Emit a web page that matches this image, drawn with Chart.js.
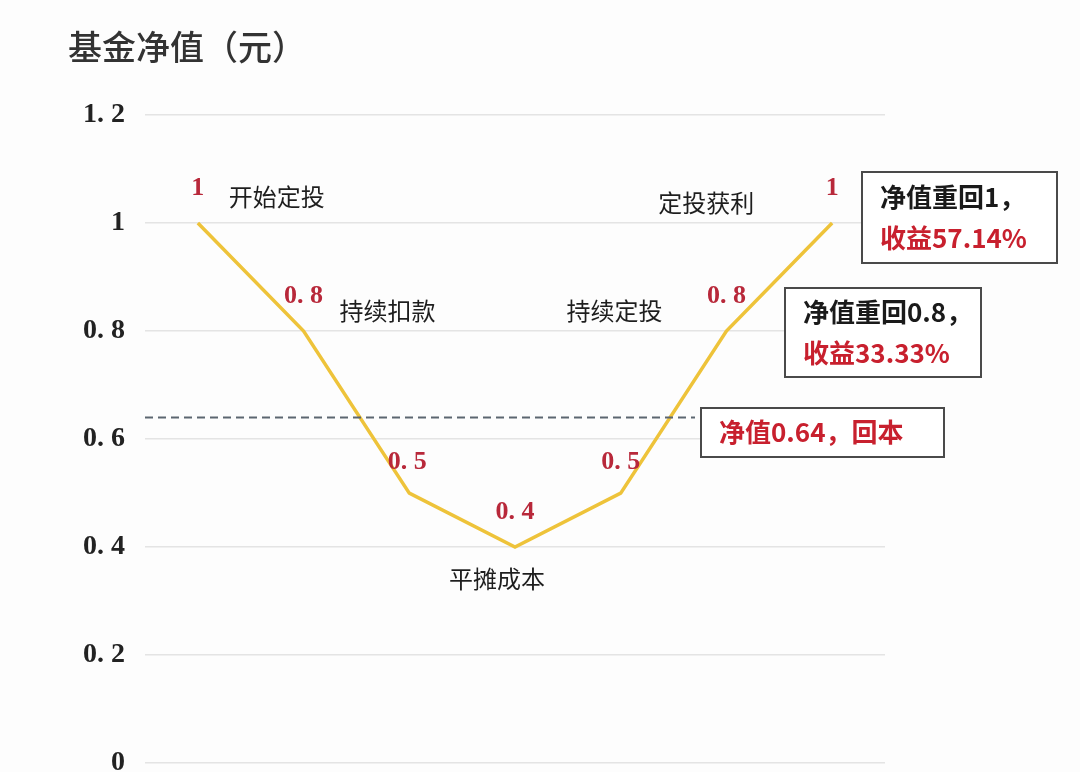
<!DOCTYPE html>
<html>
<head>
<meta charset="utf-8">
<script src="https://cdn.jsdelivr.net/npm/chart.js@4.4.1/dist/chart.umd.min.js"></script>
<style>
html,body{margin:0;padding:0;background:#fdfdfd;overflow:hidden;}
#wrap{position:absolute;left:0;top:0;width:1080px;height:800px;}
</style>
</head>
<body>
<div id="wrap"><canvas id="c" width="1080" height="800"></canvas></div>
<script>
// ---- data ----
const titleText = '基金净值（元）';
const categories = ['P1','P2','P3','P4','P5','P6','P7'];
const netValues = [1, 0.8, 0.5, 0.4, 0.5, 0.8, 1];
const valueLabels = ['1','0. 8','0. 5','0. 4','0. 5','0. 8','1'];
const tickValues = [0, 0.2, 0.4, 0.6, 0.8, 1, 1.2];
const tickLabels = ['0','0. 2','0. 4','0. 6','0. 8','1','1. 2'];
const breakEvenValue = 0.64;
const stageTexts = ['开始定投','持续扣款','平摊成本','持续定投','定投获利'];
const stagePointIndex = [0, 1, 3, 5, 6];
const boxLines = [
  ['净值重回1，','收益57.14%'],
  ['净值重回0.8，','收益33.33%'],
  ['净值0.64，回本']
];

// ---- styles / positions (not data) ----
const stageOffsets = [[79,-26],[84,-20],[-18,32],[-112,-20],[-126,-20]];
const valueLabelOffsets = [[0,-35],[0,-35],[-2,-31],[0,-35],[0,-31],[0,-35],[0,-35]];
const boxRects = [
  {x:862,y:172,w:195,h:91, colors:['#1a1a1a','#c8202e']},
  {x:785,y:288,w:196,h:89, colors:['#1a1a1a','#c8202e']},
  {x:701,y:408,w:243,h:49, colors:['#c8202e']}
];
const CJK = '"Noto Sans CJK SC","Noto Sans",sans-serif';

const annot = {
  id:'annot',
  afterDraw(chart){
    const ctx = chart.ctx, xs = chart.scales.x, ys = chart.scales.y, ca = chart.chartArea;
    ctx.save();
    // title
    ctx.fillStyle = '#333333';
    ctx.font = '500 34px ' + CJK;
    ctx.textAlign = 'left'; ctx.textBaseline = 'middle';
    ctx.fillText(titleText, 68, 47);
    // value labels
    ctx.font = 'bold 26px "Liberation Serif","DejaVu Serif",serif';
    ctx.fillStyle = '#b8283a';
    ctx.textAlign = 'center';
    netValues.forEach((v,i)=>{
      const px = xs.getPixelForValue(i), py = ys.getPixelForValue(v);
      ctx.fillText(valueLabels[i], px + valueLabelOffsets[i][0], py + valueLabelOffsets[i][1]);
    });
    // stage texts
    ctx.font = '24px ' + CJK;
    ctx.fillStyle = '#1e1e1e';
    stageTexts.forEach((t,k)=>{
      const i = stagePointIndex[k];
      const px = xs.getPixelForValue(i), py = ys.getPixelForValue(netValues[i]);
      ctx.fillText(t, px + stageOffsets[k][0], py + stageOffsets[k][1]);
    });
    // break-even dashed line
    const yb = ys.getPixelForValue(breakEvenValue);
    ctx.strokeStyle = '#5c6670';
    ctx.lineWidth = 2;
    ctx.setLineDash([8,5]);
    ctx.beginPath(); ctx.moveTo(ca.left, yb); ctx.lineTo(695, yb); ctx.stroke();
    ctx.setLineDash([]);
    // boxes
    boxLines.forEach((lines,b)=>{
      const r = boxRects[b];
      ctx.fillStyle = '#ffffff';
      ctx.fillRect(r.x, r.y, r.w, r.h);
      ctx.strokeStyle = '#4a4a4a'; ctx.lineWidth = 2;
      ctx.strokeRect(r.x, r.y, r.w, r.h);
      ctx.font = 'bold 26px ' + CJK;
      ctx.textAlign = 'left';
      const n = lines.length, lh = 41;
      const startY = r.y + r.h/2 - (n-1)*lh/2;
      lines.forEach((ln,j)=>{
        ctx.fillStyle = r.colors[j];
        ctx.fillText(ln, r.x + 18, startY + j*lh);
      });
    });
    ctx.restore();
  }
};

new Chart(document.getElementById('c'), {
  type:'line',
  data:{
    labels:categories,
    datasets:[{
      data:netValues,
      borderColor:'#eec33a',
      borderWidth:3.5,
      pointRadius:0,
      tension:0,
      fill:false
    }]
  },
  options:{
    responsive:false,
    animation:false,
    layout:{padding:{left:0,right:195,top:115,bottom:33}},
    plugins:{legend:{display:false},tooltip:{enabled:false}},
    scales:{
      x:{type:'category',display:false,offset:true},
      y:{
        min:0,max:1.2,
        afterBuildTicks(s){ s.ticks = tickValues.map(v=>({value:v})); },
        afterFit(s){ s.width = 145; },
        grid:{color:'#e4e4e4',lineWidth:1.5,drawTicks:false},
        border:{display:false},
        ticks:{
          padding:20,
          color:'#222',
          font:{family:'"Liberation Serif","DejaVu Serif",serif',size:28,weight:'bold'},
          callback(v,i){ return tickLabels[i]; }
        }
      }
    }
  },
  plugins:[annot]
});
</script>
</body>
</html>
